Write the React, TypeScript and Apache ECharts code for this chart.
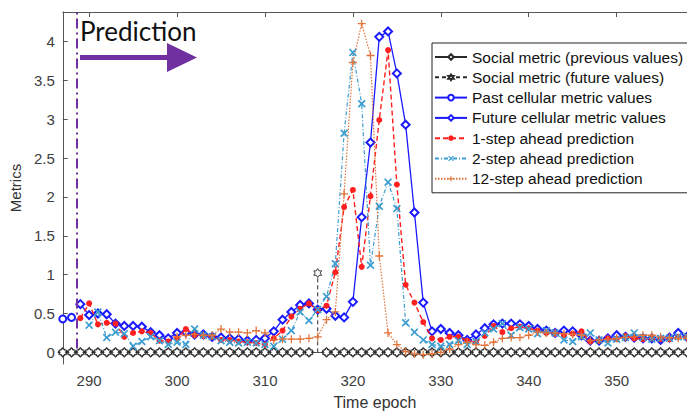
import { useEffect, useRef } from "react";
import * as echarts from "echarts";

// Axis layout
const X_MIN = 287;
const X_MAX = 358;
const Y_MIN = -0.15;
const Y_MAX = 4.38;
const X_TICKS = [290, 300, 310, 320, 330, 340, 350];
const Y_TICKS = [0, 0.5, 1, 1.5, 2, 2.5, 3, 3.5, 4];
const PREDICTION_START = 288.55;

// Social metric, epochs 287..358
const SOCIAL_START = 287;
const socialPrevious = [
  0, 0, 0, 0, 0, 0, 0, 0, 0, 0, 0, 0, 0, 0, 0, 0, 0, 0, 0, 0, 0, 0, 0, 0, 0, 0, 0, 0, 0,
  null,
  0, 0, 0, 0, 0, 0, 0, 0, 0, 0, 0, 0, 0, 0, 0, 0, 0, 0, 0, 0, 0, 0, 0, 0, 0, 0, 0, 0, 0, 0, 0, 0,
  0, 0, 0, 0, 0, 0, 0, 0, 0, 0,
];
const socialFuture = [
  0, 0, 0, 0, 0, 0, 0, 0, 0, 0, 0, 0, 0, 0, 0, 0, 0, 0, 0, 0, 0, 0, 0, 0, 0, 0, 0, 0, 0,
  1.02,
  0, 0, 0, 0, 0, 0, 0, 0, 0, 0, 0, 0, 0, 0, 0, 0, 0, 0, 0, 0, 0, 0, 0, 0, 0, 0, 0, 0, 0, 0, 0, 0,
  0, 0, 0, 0, 0, 0, 0, 0, 0, 0,
];

// Cellular metric
const PAST_START = 287;
const pastCellular = [0.43, 0.45];

const FUTURE_START = 289;
const futureCellular = [
  0.62, 0.48, 0.5, 0.49, 0.37, 0.34, 0.34, 0.33, 0.26, 0.22, 0.18, // 289-299
  0.25, 0.26, 0.23, 0.23, 0.2, 0.19, 0.18, 0.17, 0.15, 0.16, // 300-309
  0.18, 0.27, 0.42, 0.52, 0.61, 0.63, 0.55, 0.56, 0.47, 0.45, // 310-319
  0.65, 1.74, 2.7, 4.06, 4.13, 3.59, 2.93, 1.8, 0.64, 0.27, // 320-329
  0.3, 0.25, 0.22, 0.16, 0.23, 0.31, 0.36, 0.37, 0.37, 0.36, // 330-339
  0.34, 0.3, 0.28, 0.25, 0.28, 0.27, 0.22, 0.15, 0.15, 0.18, // 340-349
  0.22, 0.2, 0.19, 0.18, 0.18, 0.16, 0.19, 0.25, 0.2, // 350-358
];

// Predictions
const STEP1_START = 289;
const step1 = [
  0.44, 0.63, 0.36, 0.38, 0.37, 0.2, 0.25, 0.27, 0.25, 0.15, 0.14, // 289-299
  0.18, 0.3, 0.22, 0.21, 0.2, 0.16, 0.16, 0.14, 0.13, 0.12, // 300-309
  0.1, 0.18, 0.28, 0.46, 0.56, 0.63, 0.54, 0.6, 1.03, 1.87, // 310-319
  2.09, 1.1, 2.01, 2.99, 3.89, 2.16, 0.87, 0.64, 0.39, 0.18, // 320-329
  0.16, 0.2, 0.2, 0.15, 0.13, 0.21, 0.34, 0.26, 0.31, 0.33, // 330-339
  0.31, 0.28, 0.25, 0.24, 0.22, 0.24, 0.27, 0.14, 0.15, 0.18, // 340-349
  0.17, 0.21, 0.18, 0.17, 0.18, 0.17, 0.17, 0.2, 0.2, // 350-358
];

const STEP2_START = 290;
const step2 = [
  0.35, 0.52, 0.19, 0.26, 0.24, 0.08, 0.14, 0.2, 0.15, 0.1, // 290-299
  0.13, 0.1, 0.3, 0.22, 0.2, 0.15, 0.13, 0.12, 0.13, 0.12, // 300-309
  0.1, 0.08, 0.17, 0.28, 0.52, 0.41, 0.55, 0.72, 1.14, 2.82, // 310-319
  3.86, 3.2, 1.12, 1.88, 2.19, 1.85, 0.38, 0.26, 0.16, 0.1, // 320-329
  0.08, 0.1, 0.15, 0.1, 0.14, 0.25, 0.3, 0.37, 0.22, 0.32, // 330-339
  0.3, 0.24, 0.28, 0.25, 0.16, 0.14, 0.2, 0.25, 0.16, 0.12, // 340-349
  0.17, 0.19, 0.25, 0.19, 0.17, 0.18, 0.18, 0.2, 0.2, // 350-358
];

const STEP12_START = 300;
const step12 = [
  0.2, 0.22, 0.23, 0.22, 0.22, 0.3, 0.26, 0.26, 0.25, 0.28, // 300-309
  0.25, 0.16, 0.17, 0.17, 0.17, 0.18, 0.2, 0.42, 0.52, 2.04, // 310-319
  3.73, 4.23, 3.82, 1.24, 0.25, 0.1, 0.01, -0.02, -0.03, -0.02, // 320-329
  0.0, 0.04, 0.1, 0.13, 0.1, 0.09, 0.13, 0.18, 0.19, 0.19, // 330-339
  0.22, 0.26, 0.25, 0.25, 0.24, 0.23, 0.22, 0.15, 0.16, 0.17, // 340-349
  0.18, 0.19, 0.2, 0.22, 0.22, 0.2, 0.19, 0.18, 0.18, // 350-358
];

const FONT = "'Liberation Sans', Arial, sans-serif";
const PURPLE = "#7030a0";
const BLUE = "#1a1aff";
const RED = "#ff1f1f";
const CYAN = "#3c9dd0";
const ORANGE = "#e2733a";
const SOCIAL = "#2a2a2a";

const HEXAGRAM =
  "path://M0,-10L2.89,-5L8.66,-5L5.77,0L8.66,5L2.89,5L0,10L-2.89,5L-8.66,5L-5.77,0L-8.66,-5L-2.89,-5Z";
const CROSS =
  "path://M0,1.5L1.5,0L5,3.5L8.5,0L10,1.5L6.5,5L10,8.5L8.5,10L5,6.5L1.5,10L0,8.5L3.5,5Z";
const PLUS = "path://M4.2,0H5.8V4.2H10V5.8H5.8V10H4.2V5.8H0V4.2H4.2Z";

const toPoints = (start: number, values: (number | null)[]) =>
  values.map((v, i) => [start + i, v === null ? "-" : v]);

// Future social values: a vertical dashed stem where the value leaves zero
const socialFuturePoints = () => {
  const pts: any[] = [];
  socialFuture.forEach((v, i) => {
    const e = SOCIAL_START + i;
    if (v !== 0) {
      pts.push([e - 0.5, "-"]);
      pts.push({ value: [e, 0], symbol: "none" });
      pts.push([e, v]);
      pts.push([e + 0.5, "-"]);
    } else {
      pts.push([e, v]);
    }
  });
  return pts;
};

export default function App() {
  const ref = useRef<HTMLDivElement>(null);

  useEffect(() => {
    if (!ref.current) return;
    const chart = echarts.init(ref.current, undefined, { renderer: "svg" });

    const axisLine = { show: true, lineStyle: { color: "#555", width: 1 } };

    chart.setOption({
      animation: false,
      backgroundColor: "#fff",
      textStyle: { fontFamily: FONT },
      grid: { left: 60, top: 12, width: 632, height: 356, containLabel: false },
      xAxis: [
        {
          type: "value",
          min: X_MIN,
          max: X_MAX,
          name: "Time epoch",
          nameLocation: "middle",
          nameGap: 30,
          nameTextStyle: { fontFamily: FONT, fontSize: 16, color: "#333" },
          axisLine,
          axisTick: { inside: true, length: 5, customValues: X_TICKS, lineStyle: { color: "#555" } },
          axisLabel: { customValues: X_TICKS, fontFamily: FONT, fontSize: 15, color: "#404040", margin: 9 },
          splitLine: { show: false },
        },
        {
          type: "value",
          position: "top",
          min: X_MIN,
          max: X_MAX,
          axisLine,
          axisTick: { inside: true, length: 5, customValues: X_TICKS, lineStyle: { color: "#555" } },
          axisLabel: { show: false },
          splitLine: { show: false },
        },
      ],
      yAxis: {
        type: "value",
        min: Y_MIN,
        max: Y_MAX,
        name: "Metrics",
        nameLocation: "middle",
        nameGap: 36,
        nameTextStyle: { fontFamily: FONT, fontSize: 15, color: "#333" },
        axisLine,
        axisTick: { inside: true, length: 5, customValues: Y_TICKS, lineStyle: { color: "#555" } },
        axisLabel: { customValues: Y_TICKS, fontFamily: FONT, fontSize: 15, color: "#404040", margin: 8 },
        splitLine: { show: false },
      },
      legend: {
        orient: "vertical",
        left: 432,
        top: 43,
        padding: [5, 6, 5, 2],
        itemWidth: 32,
        itemHeight: 7,
        itemGap: 2.3,
        backgroundColor: "#fff",
        borderColor: "#222",
        borderWidth: 1,
        textStyle: { fontFamily: FONT, fontSize: 15.5, lineHeight: 18, color: "#111" },
        data: [
          "Social metric (previous values)",
          "Social metric (future values)",
          "Past cellular metric values",
          "Future cellular metric values",
          "1-step ahead prediction",
          "2-step ahead prediction",
          "12-step ahead prediction",
        ],
      },
      graphic: [
        {
          type: "text",
          x: 80,
          y: 31,
          style: {
            text: "Prediction",
            font: "26px Lato, 'Open Sans', sans-serif",
            fill: "#111",
            verticalAlign: "middle",
          },
        },
        { type: "rect", shape: { x: 80, y: 55, width: 90, height: 5 }, style: { fill: PURPLE } },
        {
          type: "polygon",
          shape: { points: [[167, 43], [197, 57.5], [167, 72]] },
          style: { fill: PURPLE },
        },
      ],
      series: [
        {
          type: "line",
          name: "Social metric (previous values)",
          data: toPoints(SOCIAL_START, socialPrevious),
          symbol: "emptyDiamond",
          symbolSize: 8,
          itemStyle: { color: SOCIAL, borderWidth: 1 },
          lineStyle: { color: SOCIAL, width: 1 },
          z: 2,
        },
        {
          type: "line",
          name: "Social metric (future values)",
          data: socialFuturePoints(),
          symbol: HEXAGRAM,
          symbolSize: 9,
          symbolKeepAspect: true,
          itemStyle: { color: "#fff", borderColor: SOCIAL, borderWidth: 0.9 },
          lineStyle: { color: SOCIAL, width: 1, type: [4, 3] },
          z: 2,
        },
        {
          type: "line",
          name: "Past cellular metric values",
          data: toPoints(PAST_START, pastCellular),
          symbol: "emptyCircle",
          symbolSize: 7,
          itemStyle: { color: BLUE },
          lineStyle: { color: BLUE, width: 1.3 },
          z: 3,
          markLine: {
            silent: true,
            symbol: "none",
            label: { show: false },
            lineStyle: { color: PURPLE, width: 2, type: [10, 4, 2, 4] },
            data: [[{ coord: [PREDICTION_START, 0.05] }, { coord: [PREDICTION_START, Y_MAX] }]],
          },
        },
        {
          type: "line",
          name: "Future cellular metric values",
          data: toPoints(FUTURE_START, futureCellular),
          symbol: "emptyDiamond",
          symbolSize: 8,
          itemStyle: { color: BLUE },
          lineStyle: { color: BLUE, width: 1.3 },
          z: 3,
        },
        {
          type: "line",
          name: "1-step ahead prediction",
          data: toPoints(STEP1_START, step1),
          symbol: "circle",
          symbolSize: 6,
          itemStyle: { color: RED },
          lineStyle: { color: RED, width: 1.4, type: [5, 3] },
          z: 4,
        },
        {
          type: "line",
          name: "2-step ahead prediction",
          data: toPoints(STEP2_START, step2),
          symbol: CROSS,
          symbolSize: 8,
          itemStyle: { color: CYAN },
          lineStyle: { color: CYAN, width: 1.2, type: [4, 2, 1, 2] },
          z: 4,
        },
        {
          type: "line",
          name: "12-step ahead prediction",
          data: toPoints(STEP12_START, step12),
          symbol: PLUS,
          symbolSize: 8,
          itemStyle: { color: ORANGE },
          lineStyle: { color: ORANGE, width: 1.2, type: [1.5, 1.5] },
          z: 4,
        },
      ],
    });

    return () => chart.dispose();
  }, []);

  return (
    <div
      ref={ref}
      style={{ position: "fixed", left: 0, top: 0, width: 687, height: 415, background: "#fff" }}
    />
  );
}
